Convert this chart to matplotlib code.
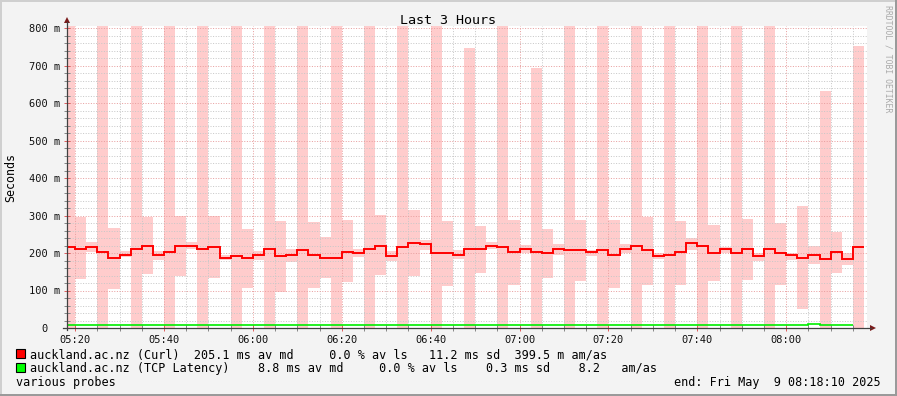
import matplotlib
matplotlib.use("Agg")
import matplotlib.pyplot as plt
import numpy as np
from matplotlib.lines import Line2D
from matplotlib.patches import Polygon, Rectangle

# ---- data (minutes since 05:00; 2.5-minute bins starting 05:17:30) ----
bin_start_min = 17.5
bin_width_min = 2.5
# smoke range low/high per bin (ms); 820 = beyond top of chart
smoke_lo = [0, 130, 202, 0, 103, 190, 0, 144, 181, 0, 139, 210,
            0, 134, 181, 0, 108, 181, 0, 97, 177, 0, 108, 134,
            0, 124, 190, 0, 141, 179, 0, 139, 208, 0, 113, 183,
            0, 148, 210, 0, 116, 199, 0, 134, 196, 0, 125, 192,
            0, 108, 199, 0, 115, 183, 0, 115, 208, 0, 126, 199,
            0, 128, 179, 0, 115, 181, 50, 171, 0, 148, 168, 0]
smoke_hi = [820, 297, 229, 820, 267, 206, 820, 297, 206, 820, 299, 229,
            820, 299, 195, 820, 264, 206, 820, 285, 212, 820, 283, 242,
            820, 288, 212, 820, 301, 206, 820, 315, 236, 820, 285, 208,
            746, 272, 229, 820, 288, 221, 693, 264, 224, 820, 288, 208,
            820, 288, 224, 820, 297, 199, 820, 285, 241, 820, 276, 217,
            820, 291, 201, 820, 281, 201, 325, 219, 633, 257, 201, 752]
curl_median = [215, 212, 217, 204, 186, 196, 212, 220, 194, 202, 218, 220,
               210, 217, 188, 191, 186, 194, 210, 192, 194, 207, 194, 188,
               186, 204, 199, 212, 220, 191, 215, 226, 223, 199, 199, 196,
               211, 210, 220, 215, 202, 212, 204, 199, 210, 208, 207, 202,
               207, 196, 212, 218, 207, 191, 196, 202, 226, 220, 199, 210,
               199, 210, 192, 212, 199, 196, 188, 194, 183, 202, 183, 215]
tcp_median = [8.8] * 67 + [11.5] + [8.8] * 3

y_ticks = [0, 100, 200, 300, 400, 500, 600, 700, 800]
y_labels = ["0  ", "100 m", "200 m", "300 m", "400 m", "500 m", "600 m", "700 m", "800 m"]
x_ticks = [20, 40, 60, 80, 100, 120, 140, 160, 180]
x_labels = ["05:20", "05:40", "06:00", "06:20", "06:40", "07:00", "07:20", "07:40", "08:00"]

legend_lines = [
    ("#ff0000", "auckland.ac.nz (Curl)  205.1 ms av md     0.0 % av ls   11.2 ms sd  399.5 m am/as"),
    ("#00ff00", "auckland.ac.nz (TCP Latency)    8.8 ms av md     0.0 % av ls    0.3 ms sd    8.2   am/as"),
]

# ---- figure ----
W, H = 897, 396
fig = plt.figure(figsize=(W / 100, H / 100), dpi=100, facecolor="#f3f3f3")
mono = "DejaVu Sans Mono"

def fx(px):
    return px / W

def fy(py):
    return 1 - py / H

ax = fig.add_axes([fx(67), fy(328), 800 / W, 302 / H])
ax.set_facecolor("white")
ax.set_xlim(18 + 10 / 60, 198 + 10 / 60)
ax.set_ylim(0, 800 * 302 / 300)

n = len(smoke_lo)
lefts = bin_start_min + bin_width_min * np.arange(n)
lo = np.array(smoke_lo, float)
hi = np.array(smoke_hi, float)
ax.bar(lefts, hi - lo, bottom=lo, width=bin_width_min, align="edge",
       color="#ffcccc", linewidth=0, zorder=1)

edges = bin_start_min + bin_width_min * np.arange(len(curl_median) + 1)
ax.stairs(curl_median, edges, baseline=None, color="#ff0000", lw=1.4, zorder=3)
edges_t = bin_start_min + bin_width_min * np.arange(len(tcp_median) + 1)
ax.stairs(tcp_median, edges_t, baseline=None, color="#00ee00", lw=1.2, zorder=3)

# grid
ax.set_xticks(x_ticks)
ax.set_xticks(np.arange(20, 200, 5), minor=True)
ax.set_yticks(y_ticks)
ax.set_yticks(np.arange(0, 801, 20), minor=True)
ax.set_axisbelow(False)
ax.grid(which="minor", color="#c8c8c8", ls=(0, (1, 1.6)), lw=0.72, zorder=2)
ax.grid(which="major", color="#e8a0a0", ls=(0, (1, 1.6)), lw=0.72, zorder=2)

ax.set_yticklabels(y_labels, family=mono, fontsize=7.5, color="#111111")
ax.set_xticklabels(x_labels, family=mono, fontsize=7.5, color="#111111")
ax.tick_params(which="major", axis="both", length=4, direction="inout", color="#e06060", width=0.72, pad=2.8)
ax.tick_params(which="minor", axis="both", length=4, direction="inout", color="#888888", width=0.72)
for s in ax.spines.values():
    s.set_visible(False)

# axis lines with arrows
fig.add_artist(Line2D([fx(67), fx(67)], [fy(330), fy(22)], color="#404040", lw=0.9))
fig.add_artist(Line2D([fx(63), fx(871)], [fy(328), fy(328)], color="#404040", lw=0.9))
fig.add_artist(Polygon([[fx(64), fy(23)], [fx(70), fy(23)], [fx(67), fy(17)]],
                       closed=True, color="#7a1a1a", lw=0))
fig.add_artist(Polygon([[fx(870), fy(325)], [fx(870), fy(331)], [fx(876), fy(328)]],
                       closed=True, color="#7a1a1a", lw=0))

# texts
fig.text(fx(448), fy(24), "Last 3 Hours", family=mono, fontsize=9.6, ha="center", va="baseline", color="#000000")
fig.text(fx(11), fy(178), "Seconds", family=mono, fontsize=8.4, rotation=90, ha="center", va="center", color="#000000")
fig.text(fx(888), fy(5), "RRDTOOL / TOBI OETIKER", family=mono, fontsize=5.9, rotation=270,
         ha="center", va="top", color="#aaaaaa")

for i, (col, txt) in enumerate(legend_lines):
    yb = 358 + 14 * i
    fig.add_artist(Rectangle((fx(15.5), fy(yb - 0.5)), 9 / W, 9 / H, facecolor=col,
                             edgecolor="#000000", lw=0.8))
    fig.text(fx(30), fy(yb), txt, family=mono, fontsize=8.5, ha="left", va="baseline", color="#000000")
fig.text(fx(16), fy(386), "various probes", family=mono, fontsize=8.5, ha="left", va="baseline", color="#000000")
fig.text(fx(881), fy(386), "end: Fri May  9 08:18:10 2025", family=mono, fontsize=8.5,
         ha="right", va="baseline", color="#000000")

# frame
fig.add_artist(Rectangle((0, fy(2)), 1, 2 / H, facecolor="#cfcfcf", lw=0))
fig.add_artist(Rectangle((0, 0), 2 / W, 1, facecolor="#cfcfcf", lw=0))
fig.add_artist(Rectangle((0, 0), 1, 2 / H, facecolor="#9a9a9a", lw=0))
fig.add_artist(Rectangle((1 - 2 / W, 0), 2 / W, 1, facecolor="#9a9a9a", lw=0))

fig.savefig("out.png", dpi=100, facecolor=fig.get_facecolor())
